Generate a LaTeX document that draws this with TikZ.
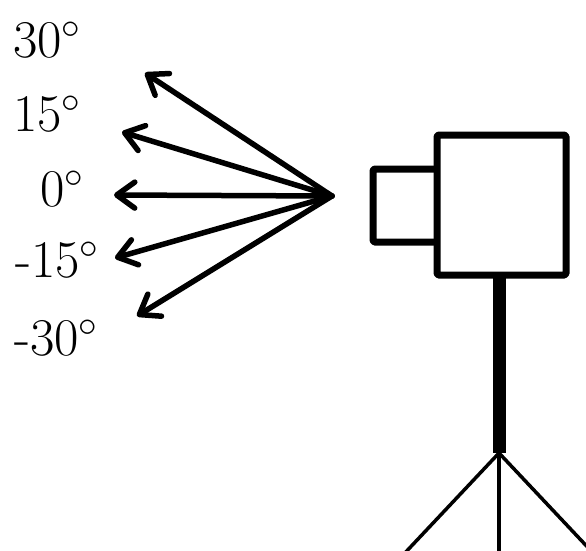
\RequirePackage{fix-cm}
\documentclass[tikz,border=0pt]{standalone}
\usetikzlibrary{arrows.meta}
\begin{document}
\begin{tikzpicture}[x=1pt,y=-1pt,
  lbl/.style={inner sep=0pt,font=\fontsize{53}{60}\selectfont},
  ray/.style={line width=5.5pt,line cap=round,-{Straight Barb[length=18pt,width=26pt,line cap=round,line join=round]}},
  boxline/.style={line width=7pt,line join=round,rounded corners=1.5pt},
  leg/.style={line width=3.5pt}]
\useasboundingbox (0,0) rectangle (586,550);
\clip (0,0) rectangle (586,550);
% labels
\node[lbl] (l30) at (47,40) {30$^\circ$};
\node[lbl] (l15) at (47,114) {15$^\circ$};
\node[lbl] (l0) at (62,189) {0$^\circ$};
\node[lbl] (lm15) at (57,260) {-15$^\circ$};
\node[lbl] (lm30) at (56,338) {-30$^\circ$};
% rays
\coordinate (o) at (332,196);
\coordinate (t30) at (145,73);
\coordinate (t15) at (122,132);
\coordinate (t0) at (114,195);
\coordinate (tm15) at (115,258);
\coordinate (tm30) at (137,316);
\draw[ray] (o) -- (t30);
\draw[ray] (o) -- (t15);
\draw[ray] (o) -- (t0);
\draw[ray] (o) -- (tm15);
\draw[ray] (o) -- (tm30);
% camera
\coordinate (lensTL) at (373,169);
\coordinate (lensBR) at (437,242);
\coordinate (bodyTL) at (437,135);
\coordinate (bodyBR) at (566,275);
\draw[boxline] (437,169) -- (lensTL) -- (373,242) -- (437,242);
\draw[boxline] (bodyTL) rectangle (bodyBR);
% pole
\coordinate (poleTop) at (499,275);
\coordinate (poleBot) at (499,453);
\draw[line width=13pt] (poleTop) -- (poleBot);
% legs
\coordinate (legL) at (403,555);
\coordinate (legM) at (499,555);
\coordinate (legR) at (595,555);
\draw[leg] (poleBot) -- (legL);
\draw[leg] (poleBot) -- (legM);
\draw[leg] (poleBot) -- (legR);
\end{tikzpicture}
\end{document}
